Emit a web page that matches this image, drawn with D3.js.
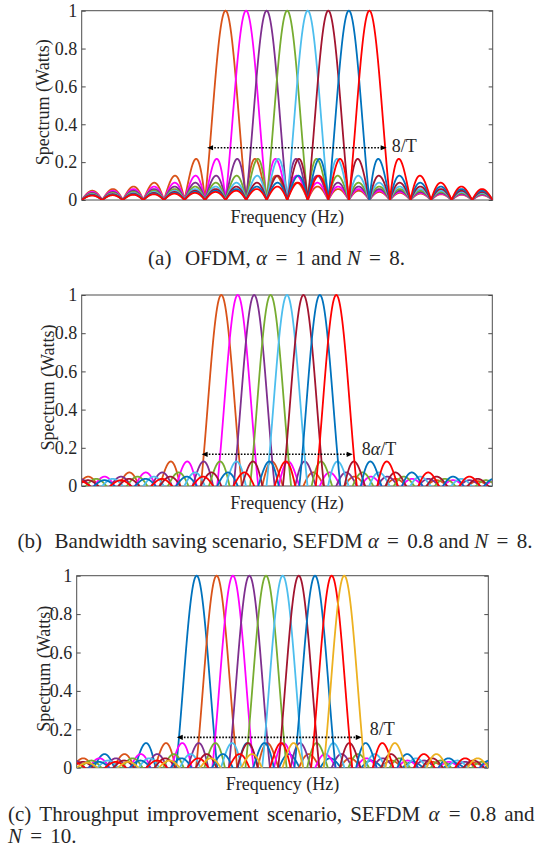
<!DOCTYPE html>
<html><head><meta charset="utf-8">
<script src="https://cdn.jsdelivr.net/npm/d3@7"></script>
<style>
body{margin:0;background:#fff;}
</style></head><body>
<svg id="fig" width="538" height="852" font-family="'Liberation Serif', 'Times New Roman', 'DejaVu Serif', serif"></svg>
<script>
// ---------------- data ----------------
const yTickValues = [0, 0.2, 0.4, 0.6, 0.8, 1];
const yTickLabels = ["0", "0.2", "0.4", "0.6", "0.8", "1"];

// sub-carrier centre frequencies, in units of 1/T
const centersA = [0, 1, 2, 3, 4, 5, 6, 7];
const centersB = [0, 0.8, 1.6, 2.4, 3.2, 4.0, 4.8, 5.6];
const centersC = [0, 0.97, 1.76, 2.56, 3.37, 4.18, 4.96, 5.75, 6.56, 7.17];

// visible frequency range of each panel, in units of 1/T
const freqDomainA = [-7, 13];
const freqDomainB = [-6.8, 13.2];
const freqDomainC = [-5.83, 14.17];

// bandwidth arrows: [from, to, level]
const arrowA = [-0.9, 7.84, 0.276];
const arrowB = [-0.96, 6.4, 0.166];
const arrowC = [-0.97, 8.02, 0.158];
const arrowLabelA = [["8/T", false]];
const arrowLabelB = [["8", false], ["α", true], ["/T", false]];
const arrowLabelC = [["8/T", false]];

// ---------------- styles ----------------
const FONT = "'Liberation Serif', 'Times New Roman', 'DejaVu Serif', serif";
const colorsA = ["#D95319", "#FF00FF", "#7E2F8E", "#77AC30", "#4DBEEE", "#A2142F", "#0072BD", "#FF0000"];
const colorsB = ["#D95319", "#FF00FF", "#7E2F8E", "#77AC30", "#4DBEEE", "#A2142F", "#0072BD", "#FF0000"];
const colorsC = ["#0072BD", "#D95319", "#FF00FF", "#7E2F8E", "#77AC30", "#4DBEEE", "#A2142F", "#0072BD", "#FF0000", "#EDB120"];

const svg = d3.select("#fig");
svg.append("rect").attr("width", 538).attr("height", 852).attr("fill", "#fff");

function txt(sel) {
  return sel.append("text").attr("font-family", FONT).attr("fill", "#262626").style("white-space", "pre");
}
function addParts(t, parts) {
  parts.forEach(([s, it, dx]) => {
    const ts = t.append("tspan").attr("font-style", it ? "italic" : "normal").text(s);
    if (dx) ts.attr("dx", dx);
  });
  return t;
}

// spectrum of a rectangular pulse (sinc) around its sub-carrier
function sinc(u) {
  if (Math.abs(u) < 1e-9) return 1;
  return Math.sin(Math.PI * u) / (Math.PI * u);
}

let clipId = 0;
function panel(cfg) {
  const x = d3.scaleLinear().domain(cfg.domain).range([cfg.left, cfg.right]);
  const y = d3.scaleLinear().domain([0, 1]).range([cfg.bottom, cfg.top]);
  const g = svg.append("g");
  const id = "clip" + (clipId++);
  g.append("clipPath").attr("id", id).append("rect")
    .attr("x", cfg.left).attr("y", cfg.top - 2)
    .attr("width", cfg.right - cfg.left).attr("height", cfg.bottom - cfg.top + 2);

  // axes
  const yl = d3.axisLeft(y).tickValues(yTickValues)
    .tickFormat((d, i) => yTickLabels[i]).tickSizeInner(-4).tickSizeOuter(0).tickPadding(4.5);
  const ga = g.append("g").attr("transform", `translate(${cfg.left},0)`).call(yl)
    .attr("font-family", FONT).attr("font-size", 18);
  ga.select(".domain").remove();
  ga.selectAll("line").attr("stroke", "#4d4d4d");
  ga.selectAll("text").attr("fill", "#262626");
  const yr = d3.axisRight(y).tickValues(yTickValues).tickFormat("").tickSizeInner(-4).tickSizeOuter(0);
  const gr = g.append("g").attr("transform", `translate(${cfg.right},0)`).call(yr);
  gr.select(".domain").remove();
  gr.selectAll("line").attr("stroke", "#4d4d4d");

  g.append("rect").attr("x", cfg.left).attr("y", cfg.top)
    .attr("width", cfg.right - cfg.left).attr("height", cfg.bottom - cfg.top)
    .attr("fill", "none").attr("stroke", "#4d4d4d").attr("stroke-width", 1);

  // curves
  const freqs = d3.range(cfg.domain[0], cfg.domain[1] + 0.0025, 0.005);
  const line = d3.line().x(d => x(d[0])).y(d => y(d[1]));
  const gc = g.append("g").attr("clip-path", `url(#${id})`);
  cfg.centers.forEach((c, i) => {
    const pts = freqs.map(f => {
      const v = sinc(f - c);
      return [f, cfg.abs ? Math.abs(v) : v];
    });
    gc.append("path").attr("d", line(pts)).attr("fill", "none")
      .attr("stroke", cfg.colors[i]).attr("stroke-width", 1.8).attr("stroke-linejoin", "round");
  });

  // arrow
  const [a0, a1, lev] = cfg.arrow;
  const ax0 = x(a0), ax1 = x(a1), ay = y(lev);
  g.append("line").attr("x1", ax0 + 4).attr("x2", ax1 - 4).attr("y1", ay).attr("y2", ay)
    .attr("stroke", "#000").attr("stroke-width", 1.6).attr("stroke-dasharray", "1.6,1.6");
  g.append("path").attr("d", `M${ax0},${ay} L${ax0 + 6},${ay - 2.6} L${ax0 + 6},${ay + 2.6} Z`).attr("fill", "#000");
  g.append("path").attr("d", `M${ax1},${ay} L${ax1 - 6},${ay - 2.6} L${ax1 - 6},${ay + 2.6} Z`).attr("fill", "#000");
  const lt = txt(g).attr("x", ax1 + cfg.labelDx).attr("y", ay + cfg.labelDy).attr("font-size", 18);
  addParts(lt, cfg.arrowLabel);

  // axis titles
  txt(g).attr("x", (cfg.left + cfg.right) / 2).attr("y", cfg.bottom + 22.5)
    .attr("text-anchor", "middle").attr("font-size", 18).text("Frequency (Hz)");
  txt(g).attr("transform", `translate(${cfg.yLabelX},${(cfg.top + cfg.bottom) / 2 - 3}) rotate(-90)`)
    .attr("text-anchor", "middle").attr("font-size", 18).text("Spectrum (Watts)");
}

panel({left: 81.7, right: 492.7, top: 10.7, bottom: 200, domain: freqDomainA, centers: centersA,
  colors: colorsA, abs: true, arrow: arrowA, arrowLabel: arrowLabelA, labelDx: 5, labelDy: 4.5, yLabelX: 49});
panel({left: 81.7, right: 492.3, top: 295, bottom: 486, domain: freqDomainB, centers: centersB,
  colors: colorsB, abs: false, arrow: arrowB, arrowLabel: arrowLabelB, labelDx: 9, labelDy: 0.5, yLabelX: 54});
panel({left: 76.7, right: 488.3, top: 575.7, bottom: 767.7, domain: freqDomainC, centers: centersC,
  colors: colorsC, abs: false, arrow: arrowC, arrowLabel: arrowLabelC, labelDx: 8, labelDy: -2, yLabelX: 50});

// ---------------- captions ----------------
const capSize = 21;
function caption(cx, cy, parts) {
  const t = txt(svg).attr("x", cx).attr("y", cy).attr("text-anchor", "middle").attr("font-size", capSize);
  return addParts(t, parts);
}
caption(276.5, 265, [["(a)  ", false], ["OFDM, ", false, 3], ["α", true], [" = ", false, 3], ["1", false, 3], [" and ", false],
  ["N", true], [" = ", false, 3], ["8.", false, 3]]);
caption(275, 548, [["(b)  ", false], ["Bandwidth saving scenario, SEFDM ", false, 2], ["α", true], [" = ", false, 3], ["0.8", false, 3],
  [" and ", false], ["N", true], [" = ", false, 3], ["8.", false, 3]]);

// caption (c): first line justified between x=8 and x=535
const lineTokens = [
  [["(c)", false]], [["Throughput", false]], [["improvement", false]], [["scenario,", false]],
  [["SEFDM", false]], [["α", true], [" = ", false, 4], ["0.8", false, 4]], [["and", false]]
];
const nodes = lineTokens.map(parts => addParts(txt(svg).attr("y", 821).attr("font-size", capSize), parts));
const widths = nodes.map(n => n.node().getBBox().width);
const gap = (535 - 8 - d3.sum(widths)) / (nodes.length - 1);
let cur = 8;
nodes.forEach((n, i) => { n.attr("x", cur); cur += widths[i] + gap; });
addParts(txt(svg).attr("x", 8).attr("y", 843).attr("font-size", capSize),
  [["N", true], [" = ", false, 3], ["10.", false, 3]]);
</script>
</body></html>
